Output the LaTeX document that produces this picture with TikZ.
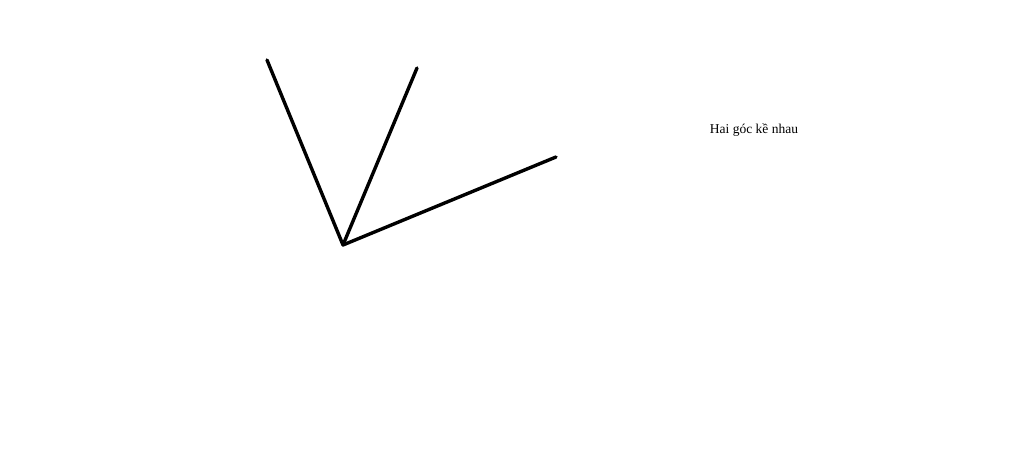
\documentclass[tikz,border=0pt]{standalone}
\usepackage{fontspec}
\setmainfont{Liberation Serif}
\begin{document}
\begin{tikzpicture}[x=1pt,y=1pt, line join=round, line cap=round, tia/.style={line width=3.4pt}]
            \useasboundingbox (0,0) rectangle (1024,472);
            \coordinate (O) at (343,227);
            \coordinate (A) at (267,412);
            \coordinate (B) at (417,404);
            \coordinate (C) at (556,315);
            \draw[tia] (A)--(O)--(C);
            \draw[tia] (O)--(B);
            \node (T) at (754,342) {\fontsize{13.5}{16}\selectfont Hai góc kề nhau};
        \end{tikzpicture}
\end{document}
